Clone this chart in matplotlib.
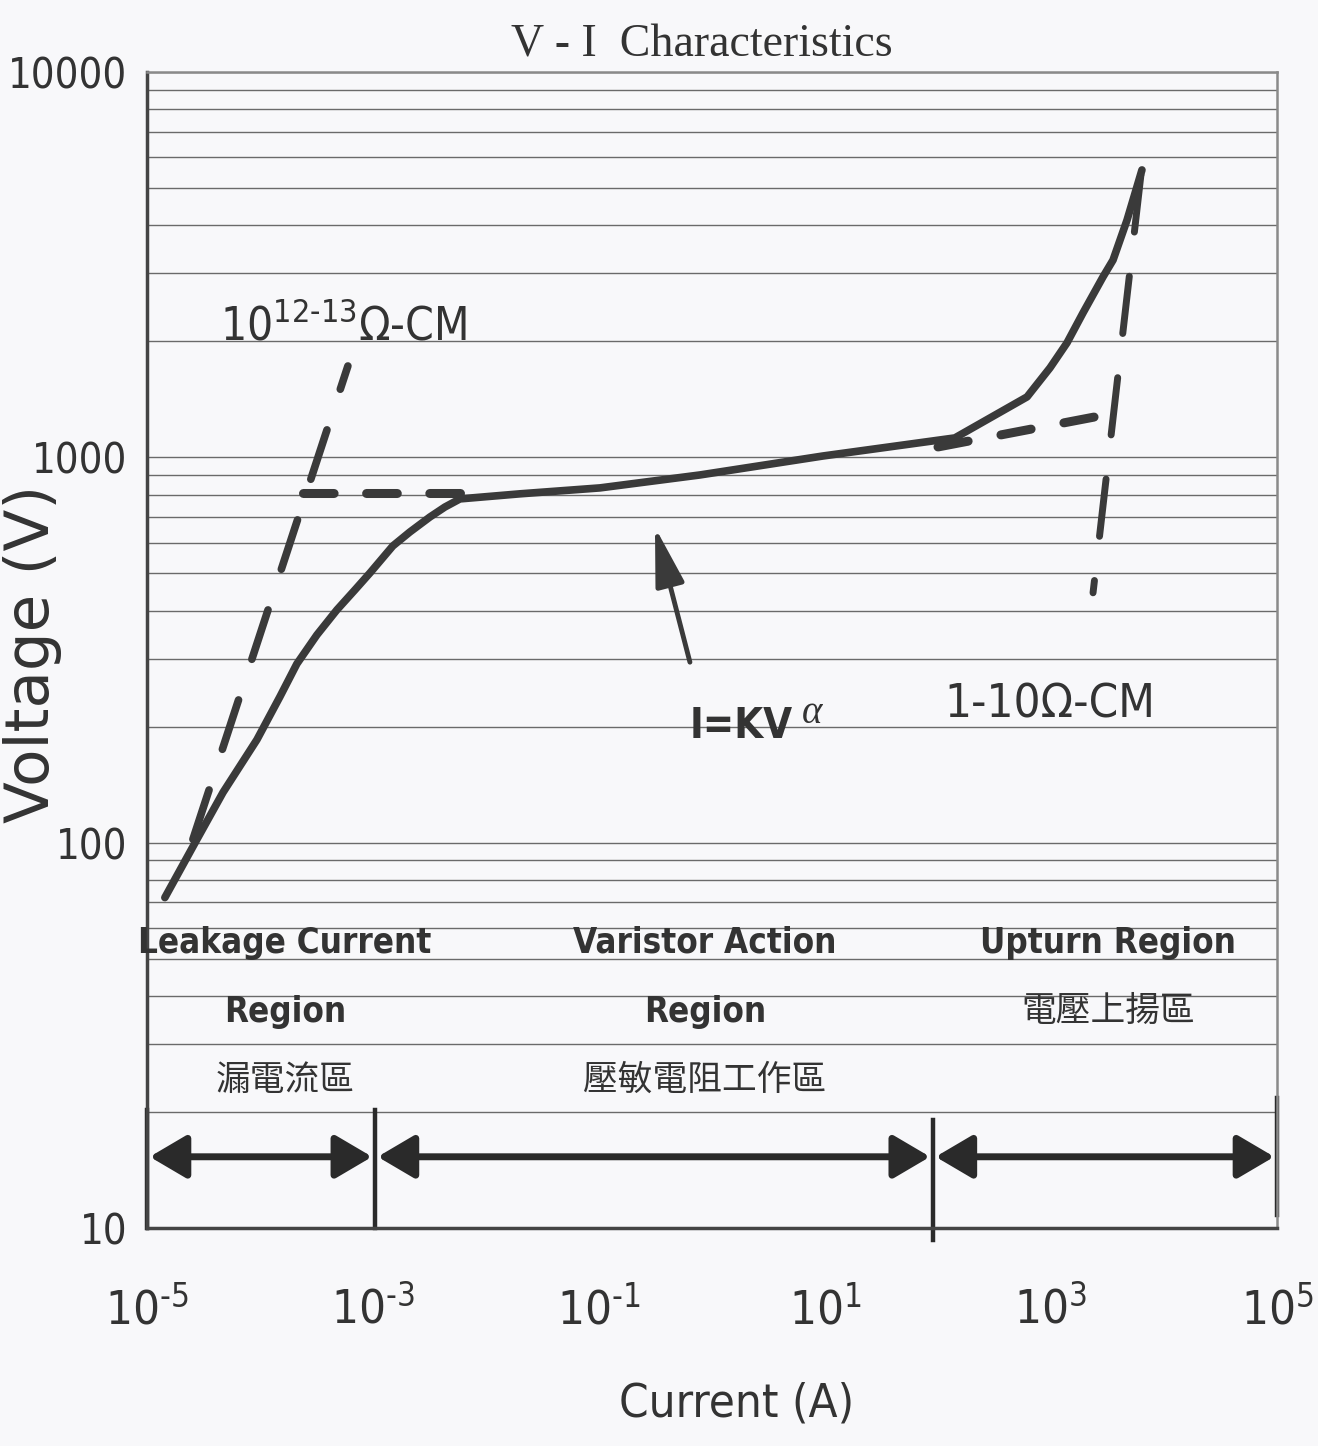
import numpy as np
import matplotlib
matplotlib.use('Agg')
import matplotlib.pyplot as plt

# main V-I curve (current A, voltage V)
cur_I = [1.44e-5, 2.77e-5, 4.71e-5, 9.4e-5, 1.5e-4, 2.12e-4, 3.19e-4, 4.8e-4,
         6.93e-4, 9.4e-4, 1.5e-3, 2.12e-3, 3.19e-3, 4.33e-3, 5.89e-3, 0.020,
         0.102, 0.783, 9.6, 141, 614, 980, 1385, 1920, 2885, 3540, 4710, 6380]
cur_V = [72, 102, 135, 185, 239, 291, 346, 402,
         453, 501, 589, 640, 700, 743, 780, 804,
         833, 900, 1008, 1123, 1435, 1707, 1982, 2371, 2940, 3251, 4130, 5570]

# dashed asymptotes
leak_I = [2.55e-5, 6.0e-4]
leak_V = [102, 1726]
knee_I = [5.9e-3, 2.4e-4]
knee_V = [809, 809]
up_I = [100, 3010]
up_V = [1064, 1288]
steep_I = [6250, 2355]
steep_V = [5410, 445]

# arrow to the varistor region
arr_tail = (0.638, 294)
arr_tip = (0.313, 659)

# region boundaries and labels
bounds = [1e-5, 1.04e-3, 90, 1e5]
bound_top = [20.2, 20.2, 19.1, 21.7]
bound_bot = [10, 10, 9.3, 10.8]
arrow_y = 15.3
reg_x = [1.66e-4, 0.867, 3190]
reg_en1 = ['Leakage Current', 'Varistor Action', 'Upturn Region']
reg_en2 = ['Region', 'Region', '']
reg_zh = ['漏電流區', '壓敏電阻工作區', '電壓上揚區']

xticks = [1e-5, 1e-3, 1e-1, 1e1, 1e3, 1e5]
xtick_labels = [r'$10^{\text{-}5}$', r'$10^{\text{-}3}$', r'$10^{\text{-}1}$',
                r'$10^{1}$', r'$10^{3}$', r'$10^{5}$']
yticks = [10, 100, 1000, 10000]
ytick_labels = ['10', '100', '1000', '10000']

cond = dict(family='DejaVu Sans', fontstretch='condensed')
cjk = ['Noto Sans CJK TC', 'DejaVu Sans']
plt.rcParams['mathtext.fontset'] = 'custom'
plt.rcParams['mathtext.rm'] = 'DejaVu Sans:stretch=condensed'
plt.rcParams['mathtext.it'] = 'DejaVu Sans:stretch=condensed'

ink = '#3a3a3a'
txt = '#333333'
bg = '#f8f8fa'
fig = plt.figure(figsize=(13.18, 14.46), dpi=100, facecolor=bg)
ax = fig.add_axes([0.1115, 0.1508, 0.8574, 0.7994])
ax.set_facecolor(bg)
ax.set_xscale('log')
ax.set_yscale('log')
ax.set_xlim(1e-5, 1e5)
ax.set_ylim(10, 10000)

# grid
ax.set_xticks([1e-3, 1e-1, 1e1, 1e3], minor=True)
ax.grid(True, which='both', axis='y', color='#6a6a6a', lw=1.0)
ax.grid(True, which='minor', axis='x', color='#6a6a6a', lw=1.0)
ax.tick_params(which='both', length=0)
ax.set_xticks(xticks)
ax.set_xticklabels(xtick_labels, fontsize=34, color=txt)
ax.set_yticks(yticks)
ax.set_yticklabels(ytick_labels, fontsize=30, color=txt, **cond)
ax.tick_params(axis='x', pad=42)
ax.tick_params(axis='y', pad=14)
for s in ['left', 'bottom']:
    ax.spines[s].set_linewidth(2.5)
    ax.spines[s].set_color('#444444')
for s in ['top', 'right']:
    ax.spines[s].set_linewidth(1.8)
    ax.spines[s].set_color('#8a8a8a')

fig.text(0.5326, 0.961, 'V - I  Characteristics', family='Liberation Serif', fontsize=33,
         ha='center', va='baseline', color=txt)
ax.set_ylabel('Voltage (V)', family='DejaVu Sans', fontsize=44, color=txt, va='center')
ax.yaxis.set_label_coords(-0.101, 0.497)
ax.set_xlabel('Current (A)', fontsize=34, color=txt, **cond)
ax.xaxis.set_label_coords(0.522, -0.133)

# curve and asymptotes
ax.plot(cur_I, cur_V, color=ink, lw=5.5, solid_capstyle='round', solid_joinstyle='round')
ax.plot(leak_I, leak_V, color=ink, lw=5.5, dashes=(6.8, 5.6), dash_capstyle='round')
ax.plot(knee_I, knee_V, color=ink, lw=6.5, dashes=(3.4, 3.6), dash_capstyle='round')
ax.plot(up_I, up_V, color=ink, lw=6.5, dashes=(3.4, 3.7), dash_capstyle='round')
ax.plot(steep_I, steep_V, color=ink, lw=5, dashes=(8.3, 6.4), dash_capstyle='round')

ax.annotate('', xy=arr_tip, xytext=arr_tail,
            arrowprops=dict(arrowstyle='-|>,head_length=1.2,head_width=0.3', lw=3.5,
                            color=ink, mutation_scale=30, shrinkA=0, shrinkB=0))

# annotations
ax.text(4.43e-5, 2018, r'$10^{12\text{-}13}$Ω-CM', fontsize=33, color=txt, va='baseline', **cond)
ax.text(115, 211, '1-10Ω-CM', fontsize=34, color=txt, va='baseline', **cond)
ax.text(0.638, 187, 'I=KV', fontsize=30, fontweight='bold', color=txt, va='baseline', **cond)
ax.text(6.3, 204, 'α', family='Liberation Serif', style='italic', fontsize=28, color=txt,
        va='baseline')

for x, t1, t2, tz in zip(reg_x, reg_en1, reg_en2, reg_zh):
    ax.text(x, 54.9, t1, fontsize=25, fontweight='bold', ha='center', va='center', color=txt, **cond)
    if t2:
        ax.text(x, 36.4, t2, fontsize=25, fontweight='bold', ha='center', va='center', color=txt, **cond)
        ax.text(x, 24.2, tz, family=cjk, fontsize=25, ha='center', va='center', color=txt)
    else:
        ax.text(x, 36.4, tz, family=cjk, fontsize=25, ha='center', va='center', color=txt)

for b, t, lo in zip(bounds, bound_top, bound_bot):
    ax.plot([b, b], [lo, t], color='#2a2a2a', lw=3.2, clip_on=False)

for a, b in zip(bounds[:-1], bounds[1:]):
    ax.annotate('', xy=(b, arrow_y), xytext=(a, arrow_y),
                arrowprops=dict(arrowstyle='<|-|>,head_length=0.9,head_width=0.53', lw=5,
                                color='#2a2a2a', mutation_scale=25, shrinkA=2, shrinkB=2))

fig.savefig('out.png', dpi=100, facecolor=fig.get_facecolor())
